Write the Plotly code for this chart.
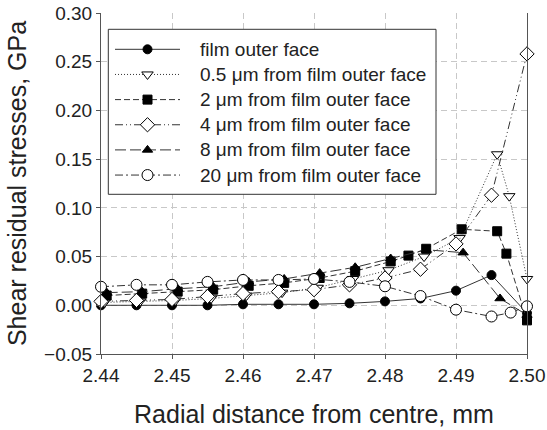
import plotly.graph_objects as go

# ---- data ----
x_face = [2.44, 2.445, 2.45, 2.455, 2.46, 2.465, 2.47, 2.475, 2.48, 2.485, 2.49, 2.495, 2.50]
y_face = [0.000, 0.000, 0.000, 0.000, 0.001, 0.001, 0.001, 0.002, 0.004, 0.007, 0.015, 0.031, -0.008]

x_05 = [2.4405, 2.4455, 2.4505, 2.4555, 2.4605, 2.4655, 2.4705, 2.4755, 2.4805, 2.4855, 2.4905, 2.4958, 2.4975, 2.50]
y_05 = [0.003, 0.004, 0.005, 0.007, 0.010, 0.013, 0.018, 0.027, 0.036, 0.050, 0.069, 0.155, 0.112, 0.027]

x_2 = [2.4408, 2.4458, 2.4508, 2.4558, 2.4608, 2.4658, 2.4708, 2.4758, 2.4808, 2.4833, 2.4858, 2.4908, 2.4958, 2.4971, 2.50]
y_2 = [0.010, 0.012, 0.014, 0.016, 0.020, 0.023, 0.028, 0.035, 0.045, 0.051, 0.058, 0.078, 0.076, 0.053, -0.0155]

x_4 = [2.44, 2.445, 2.45, 2.455, 2.46, 2.465, 2.47, 2.475, 2.48, 2.485, 2.49, 2.495, 2.50]
y_4 = [0.004, 0.005, 0.006, 0.009, 0.012, 0.014, 0.016, 0.021, 0.028, 0.037, 0.063, 0.113, 0.258]

x_8 = [2.4408, 2.4458, 2.4508, 2.4558, 2.4608, 2.4658, 2.4708, 2.4758, 2.4808, 2.4858, 2.491, 2.4962, 2.50]
y_8 = [0.013, 0.014, 0.017, 0.019, 0.024, 0.027, 0.033, 0.039, 0.048, 0.057, 0.054, 0.007, -0.010]

x_20 = [2.44, 2.445, 2.45, 2.455, 2.46, 2.465, 2.47, 2.475, 2.48, 2.485, 2.49, 2.495, 2.4977, 2.50]
y_20 = [0.019, 0.021, 0.021, 0.024, 0.026, 0.026, 0.027, 0.024, 0.0195, 0.0095, -0.0045, -0.0115, -0.0075, -0.001]

names = ["film outer face",
         "0.5 \u03bcm from film outer face",
         "2 \u03bcm from film outer face",
         "4 \u03bcm from film outer face",
         "8 \u03bcm from film outer face",
         "20 \u03bcm from film outer face"]

x_ticks = [2.44, 2.45, 2.46, 2.47, 2.48, 2.49, 2.50]
y_ticks = [-0.05, 0.00, 0.05, 0.10, 0.15, 0.20, 0.25, 0.30]

# ---- styles ----
series = [
    (x_face, y_face, "solid", "circle", "#000000", 9),
    (x_05, y_05, "1px,2px", "triangle-down", "#ffffff", 10),
    (x_2, y_2, "6px,3px", "square", "#000000", 9),
    (x_4, y_4, "8px,3px,1px,3px,1px,3px", "diamond", "#ffffff", 11),
    (x_8, y_8, "11px,4px", "triangle-up", "#000000", 9),
    (x_20, y_20, "8px,3px,2px,3px", "circle", "#ffffff", 11),
]

W, H = 547, 430
L, R, T, B = 101, 20, 13, 76
font_family = "Liberation Sans, Arial, sans-serif"

fig = go.Figure()
for (xs, ys, dash, sym, fill, size), name in zip(series, names):
    fig.add_trace(go.Scatter(
        x=xs, y=ys, name=name, mode="lines+markers", showlegend=False,
        line=dict(color="#333333", width=1, dash=dash),
        marker=dict(symbol=sym, size=size, color=fill,
                    line=dict(color="#000000", width=1)),
        cliponaxis=False,
    ))

# ---- legend drawn on a pixel-unit overlay axis ----
box_l, box_r, box_t, box_b = 108.3, 436.0, 29.3, 194.3
row0, row_step = 49.3, 25.15
sample_l, sample_r, text_x = 115.0, 180.0, 197.7

fig.add_trace(go.Scatter(
    x=[box_l, box_r, box_r, box_l, box_l], y=[box_t, box_t, box_b, box_b, box_t],
    xaxis="x2", yaxis="y2", mode="lines", fill="toself", fillcolor="white",
    line=dict(color="#333333", width=1), showlegend=False, hoverinfo="skip"))

annotations = []
for i, ((xs, ys, dash, sym, fill, size), name) in enumerate(zip(series, names)):
    yy = row0 + row_step * i
    fig.add_trace(go.Scatter(
        x=[sample_l, sample_r], y=[yy, yy], xaxis="x2", yaxis="y2", mode="lines",
        line=dict(color="#333333", width=1, dash=dash), showlegend=False, hoverinfo="skip"))
    fig.add_trace(go.Scatter(
        x=[(sample_l + sample_r) / 2], y=[yy], xaxis="x2", yaxis="y2", mode="markers",
        marker=dict(symbol=sym, size=size, color=fill, line=dict(color="#000000", width=1)),
        showlegend=False, hoverinfo="skip"))
    annotations.append(dict(x=text_x, y=yy, xref="x2", yref="y2", text=name,
                            showarrow=False, xanchor="left", yanchor="middle",
                            font=dict(size=19, family=font_family, color="#222222")))

fig.update_layout(
    width=W, height=H,
    margin=dict(l=L, r=R, t=T, b=B, autoexpand=False),
    paper_bgcolor="white", plot_bgcolor="white",
    font=dict(family=font_family, color="#222222", size=19),
    showlegend=False,
    annotations=annotations,
    xaxis=dict(range=[2.44, 2.50], tickvals=x_ticks, tickformat=".2f",
               showline=True, linecolor="#555555", linewidth=1,
               ticks="outside", ticklen=4, tickcolor="#555555",
               showgrid=True, gridcolor="#c8c8c8", griddash="6px,4px", gridwidth=1,
               zeroline=False, mirror=False, automargin=False,
               title=dict(text="Radial distance from centre, mm",
                          font=dict(size=25), standoff=20),
               tickfont=dict(size=19)),
    yaxis=dict(range=[-0.05, 0.30], tickvals=y_ticks, tickformat=".2f",
               showline=True, linecolor="#555555", linewidth=1, mirror=True,
               ticks="outside", ticklen=4, tickcolor="#555555",
               showgrid=True, gridcolor="#c8c8c8", griddash="6px,4px", gridwidth=1,
               zeroline=False, automargin=False,
               title=dict(text="Shear residual stresses, GPa",
                          font=dict(size=25), standoff=10),
               tickfont=dict(size=19)),
    xaxis2=dict(overlaying="x", anchor="y2", range=[L, W - R], visible=False, fixedrange=True),
    yaxis2=dict(overlaying="y", anchor="x2", range=[H - B, T], visible=False, fixedrange=True),
)

fig.write_html("out.html")
